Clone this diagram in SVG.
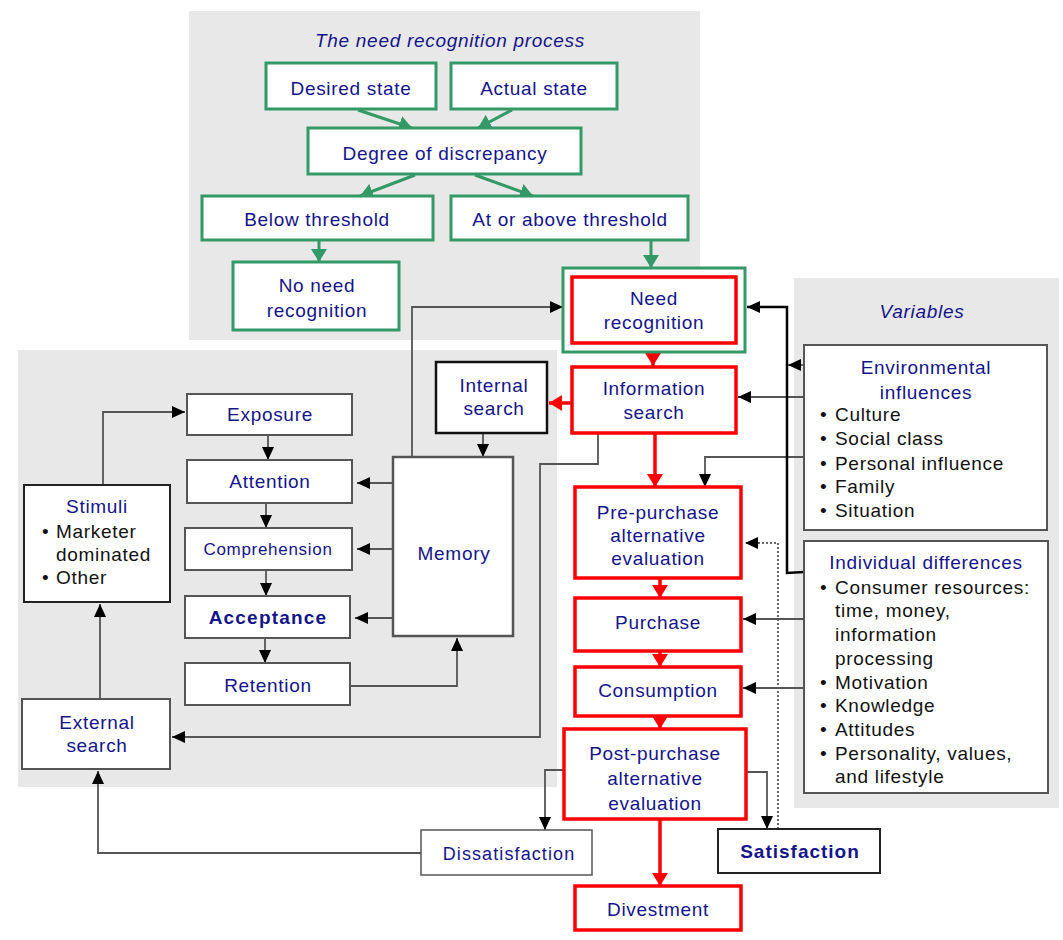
<svg xmlns="http://www.w3.org/2000/svg" width="1063" height="940" viewBox="0 0 1063 940">
<style>
text{font-family:"Liberation Sans",Arial,sans-serif;font-size:19px;letter-spacing:0.7px;fill:#14148a;text-anchor:middle}
.it{font-style:italic}
.b{font-weight:bold}
.blk{fill:#111;text-anchor:start}
.panel{fill:#e8e8e8}
.g{fill:#fff;stroke:#339966;stroke-width:3}
.r{fill:#fff;stroke:#ff0000;stroke-width:3.5}
.k{fill:#fff;stroke:#555;stroke-width:2}
.gl{stroke:#339966;stroke-width:3;fill:none}
.rl{stroke:#ff0000;stroke-width:3.5;fill:none}
.kl{stroke:#555;stroke-width:1.8;fill:none}
</style>
<defs>
<marker id="ak" markerUnits="userSpaceOnUse" markerWidth="13" markerHeight="12" refX="13" refY="6" orient="auto"><path d="M0,0 L13,6 L0,12 z" fill="#000"/></marker>
<marker id="ag" markerUnits="userSpaceOnUse" markerWidth="13" markerHeight="16" refX="13" refY="8" orient="auto"><path d="M0,0 L13,8 L0,16 z" fill="#339966"/></marker>
<marker id="ar" markerUnits="userSpaceOnUse" markerWidth="13" markerHeight="16" refX="13" refY="8" orient="auto"><path d="M0,0 L13,8 L0,16 z" fill="#ff0000"/></marker>
</defs>
<rect class="panel" x="189" y="11" width="511" height="329"/>
<rect class="panel" x="18" y="350" width="539" height="437"/>
<rect class="panel" x="794" y="278" width="265" height="530"/>
<text class="it" x="450" y="47">The need recognition process</text>
<text class="it" x="922" y="318">Variables</text>
<g id="connectors">
<path class="gl" d="M358,110 L412,128" marker-end="url(#ag)"/>
<path class="gl" d="M512,110 L478,128" marker-end="url(#ag)"/>
<path class="gl" d="M415,175 L360,196" marker-end="url(#ag)"/>
<path class="gl" d="M475,175 L533,196" marker-end="url(#ag)"/>
<path class="gl" d="M319,240 L319,262" marker-end="url(#ag)"/>
<path class="gl" d="M651,240 L651,268" marker-end="url(#ag)"/>
<path class="rl" d="M653,343 L653,366" marker-end="url(#ar)"/>
<path class="rl" d="M571,403 L549,403" marker-end="url(#ar)"/>
<path class="rl" d="M655,433 L655,487" marker-end="url(#ar)"/>
<path class="rl" d="M660,578 L660,598" marker-end="url(#ar)"/>
<path class="rl" d="M660,651 L660,667" marker-end="url(#ar)"/>
<path class="rl" d="M660,716 L660,729" marker-end="url(#ar)"/>
<path class="rl" d="M660,819 L660,886" marker-end="url(#ar)"/>
<path class="kl" d="M412,457 L412,307 L563,307" marker-end="url(#ak)"/>
<path class="kl" d="M483,433 L483,457" marker-end="url(#ak)"/>
<path class="kl" d="M393,483 L357,483" marker-end="url(#ak)"/>
<path class="kl" d="M393,549 L357,549" marker-end="url(#ak)"/>
<path class="kl" d="M393,618 L355,618" marker-end="url(#ak)"/>
<path class="kl" d="M268,435 L268,460" marker-end="url(#ak)"/>
<path class="kl" d="M266,503 L266,528" marker-end="url(#ak)"/>
<path class="kl" d="M266,570 L266,596" marker-end="url(#ak)"/>
<path class="kl" d="M265,638 L265,663" marker-end="url(#ak)"/>
<path class="kl" d="M350,686 L457,686 L457,638" marker-end="url(#ak)"/>
<path class="kl" d="M103,485 L103,412 L185,412" marker-end="url(#ak)"/>
<path class="kl" d="M100,699 L100,604" marker-end="url(#ak)"/>
<path class="kl" d="M598,433 L598,464 L540,464 L540,737 L172,737" marker-end="url(#ak)"/>
<path class="kl" d="M421,853 L98,853 L98,771" marker-end="url(#ak)"/>
<path class="kl" d="M563,770 L545,770 L545,830" marker-end="url(#ak)"/>
<path class="kl" d="M746,772 L767,772 L767,829" marker-end="url(#ak)"/>
<path d="M778,829 L778,543 L745,543" fill="none" stroke="#333" stroke-width="1.5" stroke-dasharray="2,2" marker-end="url(#ak)"/>
<path class="kl" d="M804,397 L738,397" marker-end="url(#ak)"/>
<path class="kl" d="M804,457 L705,457 L705,487" marker-end="url(#ak)"/>
<path d="M804,572 L787,573 L787,307 L747,307" fill="none" stroke="#000" stroke-width="2.5" marker-end="url(#ak)"/>
<path class="kl" d="M804,365 L788,365" marker-end="url(#ak)"/>
<path class="kl" d="M804,619 L743,619" marker-end="url(#ak)"/>
<path class="kl" d="M804,688 L743,688" marker-end="url(#ak)"/>
</g>
<g id="desired"><rect class="g" x="266" y="63" width="170" height="46"/><text x="351" y="95">Desired state</text></g>
<g id="actual"><rect class="g" x="451" y="63" width="166" height="46"/><text x="534" y="95">Actual state</text></g>
<g id="discrepancy"><rect class="g" x="308" y="128" width="273" height="46"/><text x="445" y="160">Degree of discrepancy</text></g>
<g id="below"><rect class="g" x="202" y="196" width="231" height="44"/><text x="317" y="226">Below threshold</text></g>
<g id="above"><rect class="g" x="451" y="196" width="237" height="44"/><text x="570" y="226">At or above threshold</text></g>
<g id="noneed"><rect class="g" x="233" y="262" width="166" height="68"/><text x="317" y="292">No need</text><text x="317" y="317">recognition</text></g>
<g id="needrec"><rect class="g" x="563" y="268" width="182" height="84"/><rect class="r" x="572" y="277" width="164" height="66"/><text x="654" y="305">Need</text><text x="654" y="329">recognition</text></g>
<g id="infosearch"><rect class="r" x="572" y="367" width="164" height="66"/><text x="654" y="395">Information</text><text x="654" y="419">search</text></g>
<g id="internal"><rect x="436" y="362" width="111" height="71" fill="#fff" stroke="#111" stroke-width="2.5"/><text x="494" y="392">Internal</text><text x="494" y="415">search</text></g>
<g id="exposure"><rect class="k" x="187" y="394" width="165" height="41"/><text x="270" y="421">Exposure</text></g>
<g id="attention"><rect class="k" x="187" y="460" width="165" height="43"/><text x="270" y="488">Attention</text></g>
<g id="comprehension"><rect class="k" x="185" y="528" width="167" height="42"/><text x="268" y="555" style="font-size:17px">Comprehension</text></g>
<g id="acceptance"><rect class="k" x="185" y="596" width="165" height="42"/><text class="b" x="268" y="624" style="letter-spacing:1.2px">Acceptance</text></g>
<g id="retention"><rect class="k" x="185" y="663" width="165" height="42"/><text x="268" y="692">Retention</text></g>
<g id="memory"><rect class="k" x="393" y="457" width="120" height="179" style="stroke-width:2.5"/><text x="454" y="560">Memory</text></g>
<g id="stimuli"><rect x="24" y="485" width="146" height="117" fill="#fff" stroke="#222" stroke-width="2"/><text x="97" y="513">Stimuli</text><text class="blk" x="42" y="538">•</text><text class="blk" x="56" y="538">Marketer</text><text class="blk" x="56" y="561">dominated</text><text class="blk" x="42" y="584">•</text><text class="blk" x="56" y="584">Other</text></g>
<g id="external"><rect class="k" x="22" y="699" width="148" height="70"/><text x="97" y="729">External</text><text x="97" y="752">search</text></g>
<g id="prepurchase"><rect class="r" x="575" y="487" width="166" height="91"/><text x="658" y="519">Pre-purchase</text><text x="658" y="542">alternative</text><text x="658" y="565">evaluation</text></g>
<g id="purchase"><rect class="r" x="575" y="598" width="166" height="53"/><text x="658" y="629">Purchase</text></g>
<g id="consumption"><rect class="r" x="575" y="667" width="166" height="49"/><text x="658" y="697">Consumption</text></g>
<g id="postpurchase"><rect class="r" x="564" y="729" width="182" height="90"/><text x="655" y="760">Post-purchase</text><text x="655" y="785">alternative</text><text x="655" y="810">evaluation</text></g>
<g id="divestment"><rect class="r" x="575" y="886" width="166" height="44"/><text x="658" y="916">Divestment</text></g>
<g id="dissatisfaction"><rect class="k" x="421" y="830" width="171" height="45" style="stroke-width:1.5"/><text x="509" y="860" style="font-size:18px;letter-spacing:1.1px">Dissatisfaction</text></g>
<g id="satisfaction"><rect x="718" y="829" width="162" height="44" fill="#fff" stroke="#222" stroke-width="2"/><text class="b" x="800" y="858" style="letter-spacing:1px">Satisfaction</text></g>
<g id="environmental"><rect class="k" x="804" y="345" width="243" height="185"/><text x="926" y="374">Environmental</text><text x="926" y="399">influences</text>
<text class="blk" x="820" y="421">•</text><text class="blk" x="835" y="421">Culture</text>
<text class="blk" x="820" y="445">•</text><text class="blk" x="835" y="445">Social class</text>
<text class="blk" x="820" y="470">•</text><text class="blk" x="835" y="470">Personal influence</text>
<text class="blk" x="820" y="493">•</text><text class="blk" x="835" y="493">Family</text>
<text class="blk" x="820" y="517">•</text><text class="blk" x="835" y="517">Situation</text></g>
<g id="individual"><rect class="k" x="804" y="541" width="244" height="252"/><text x="926" y="569">Individual differences</text>
<text class="blk" x="820" y="594">•</text><text class="blk" x="835" y="594">Consumer resources:</text>
<text class="blk" x="835" y="617">time, money,</text>
<text class="blk" x="835" y="641">information</text>
<text class="blk" x="835" y="665">processing</text>
<text class="blk" x="820" y="689">•</text><text class="blk" x="835" y="689">Motivation</text>
<text class="blk" x="820" y="712">•</text><text class="blk" x="835" y="712">Knowledge</text>
<text class="blk" x="820" y="736">•</text><text class="blk" x="835" y="736">Attitudes</text>
<text class="blk" x="820" y="760">•</text><text class="blk" x="835" y="760">Personality, values,</text>
<text class="blk" x="835" y="783">and lifestyle</text></g>
</svg>
